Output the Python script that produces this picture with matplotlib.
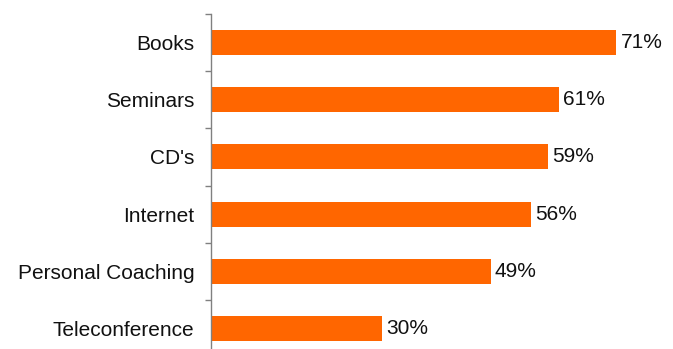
import matplotlib
matplotlib.use("Agg")
import matplotlib.pyplot as plt
import numpy as np

categories = ["Books", "Seminars", "CD's", "Internet", "Personal Coaching", "Teleconference"]
values = [71, 61, 59, 56, 49, 30]
value_labels = ["71%", "61%", "59%", "56%", "49%", "30%"]

plt.rcParams["font.family"] = ["Liberation Sans", "DejaVu Sans"]

fig = plt.figure(figsize=(6.73, 3.49), dpi=100)
# axes extends slightly below the figure so the last boundary falls off-canvas
ax = fig.add_axes([211 / 673, 1 - 357 / 349, (673 - 211) / 673, 343 / 349])

y = np.arange(len(categories))
ax.barh(y, values, height=0.44, color="#FF6600")
ax.set_ylim(len(categories) - 0.5, -0.5)
ax.set_xlim(0, 462 / 5.71)

for yi, v, lab in zip(y, values, value_labels):
    ax.annotate(lab, (v, yi), xytext=(3, 0), textcoords="offset points",
                va="center", ha="left", fontsize=15, color="#111111")

ax.set_yticks(y)
ax.set_yticklabels(categories, fontsize=15, color="#111111")
ax.tick_params(axis="y", which="major", length=0, pad=12)
ax.set_yticks(np.arange(-0.5, len(categories), 1.0), minor=True)
ax.tick_params(axis="y", which="minor", length=4, width=1.0, color="#808080")

ax.set_xticks([])
for s in ["top", "right", "bottom"]:
    ax.spines[s].set_visible(False)
ax.spines["left"].set_color("#808080")
ax.spines["left"].set_linewidth(1.0)

fig.savefig("out.png", dpi=100)
